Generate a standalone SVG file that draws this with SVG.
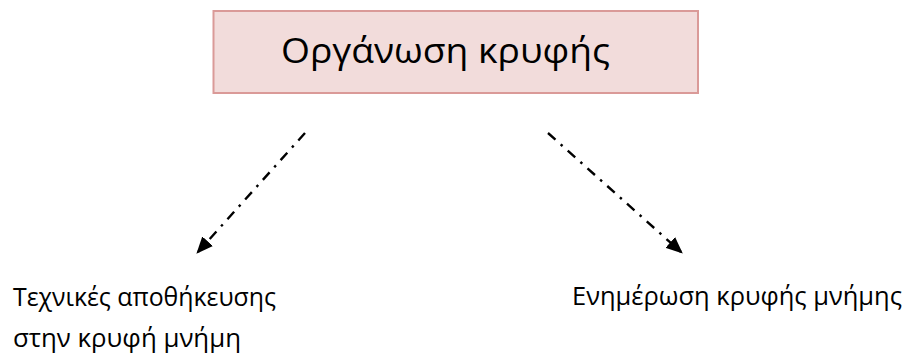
<svg xmlns="http://www.w3.org/2000/svg" width="904" height="354" viewBox="0 0 904 354">
  <defs>
    <marker id="arrowhead" markerWidth="7" markerHeight="6" refX="6" refY="3" orient="auto" markerUnits="strokeWidth">
      <path d="M0,0 L7,3 L0,6 Z" fill="#000"/>
    </marker>
    <style>
      .label { font-family: "Open Sans", "Noto Sans", "DejaVu Sans", sans-serif; fill: #000; }
      .box { fill: #f2dcdb; stroke: #da9a98; stroke-width: 2; }
      .link { fill: none; stroke: #000; stroke-width: 2.4; stroke-dasharray: 10 7 2.5 7; marker-end: url(#arrowhead); }
    </style>
  </defs>
  <rect width="904" height="354" fill="#fff"/>

  <g id="cache-organisation">
    <rect class="box" x="213.5" y="11" width="484.5" height="82"/>
    <text class="label" x="281" y="63" font-size="35" textLength="329" lengthAdjust="spacingAndGlyphs">Οργάνωση κρυφής</text>
  </g>

  <g id="storage-techniques">
    <text class="label" x="13" y="306" font-size="25" textLength="263" lengthAdjust="spacingAndGlyphs">Τεχνικές αποθήκευσης</text>
    <text class="label" x="13" y="347" font-size="25" textLength="228" lengthAdjust="spacingAndGlyphs">στην κρυφή μνήμη</text>
  </g>

  <g id="cache-update">
    <text class="label" x="572" y="305" font-size="25" textLength="330" lengthAdjust="spacingAndGlyphs">Ενημέρωση κρυφής μνήμης</text>
  </g>

  <g id="connectors">
    <line class="link" x1="305" y1="133" x2="198" y2="252"/>
    <line class="link" x1="548" y1="133" x2="681" y2="252"/>
  </g>
</svg>
